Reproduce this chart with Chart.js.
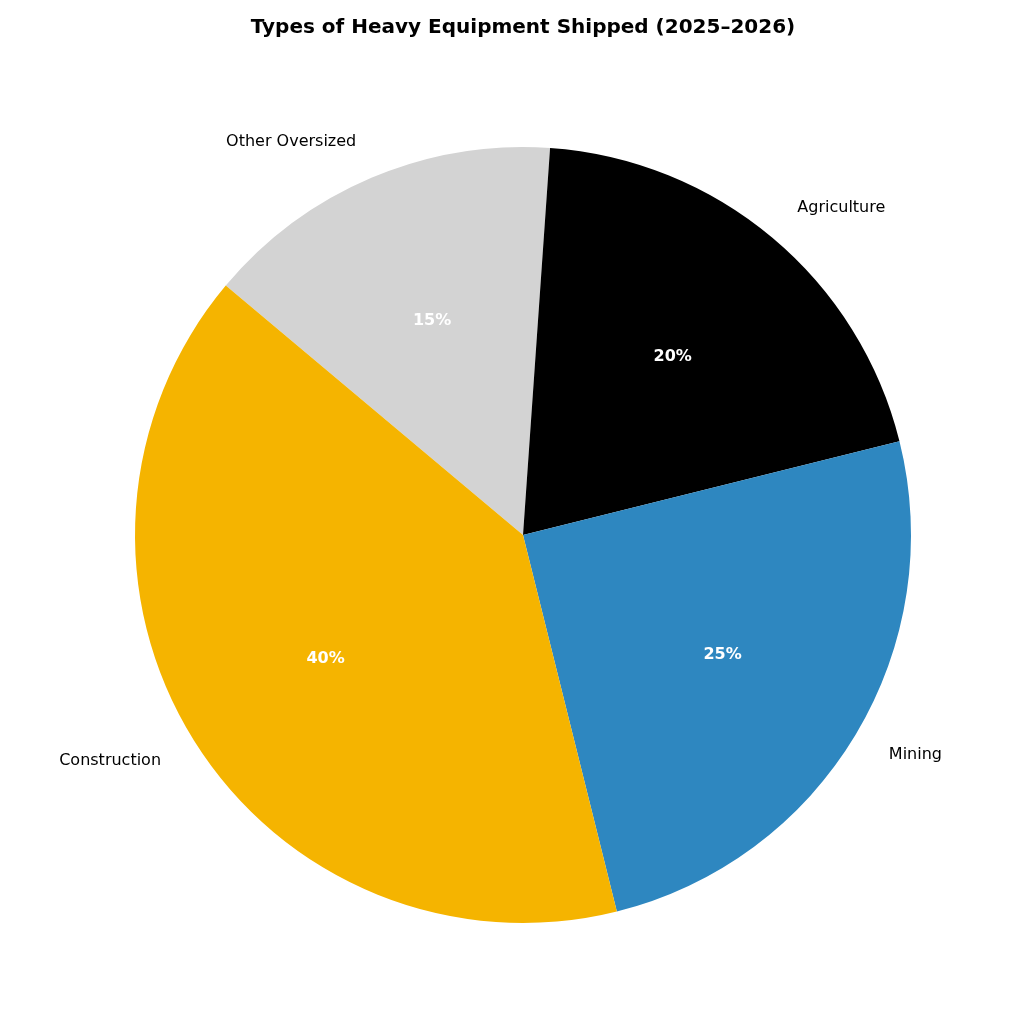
<!DOCTYPE html>
<html><head><meta charset="utf-8">
<script src="https://cdn.jsdelivr.net/npm/chart.js@4"></script>
<style>html,body{margin:0;padding:0;background:#fff}</style>
</head><body>
<div style="width:1024px;height:1035px"><canvas id="c" width="1024" height="1035"></canvas></div>
<script>
const categories = ["Other Oversized", "Agriculture", "Mining", "Construction"];
const shares = [15, 20, 25, 40];
const pctLabels = ["15%", "20%", "25%", "40%"];
const colors = ["#d3d3d3", "#000000", "#2e87c0", "#f5b400"];

const labelPlugin = {
  id: 'labels',
  afterDraw(chart) {
    const ctx = chart.ctx;
    ctx.save();
    ctx.fillStyle = '#000';
    ctx.font = 'bold 20px "DejaVu Sans"';
    ctx.textAlign = 'center';
    ctx.textBaseline = 'middle';
    ctx.fillText('Types of Heavy Equipment Shipped (2025\u20132026)', 523, 28);
    const meta = chart.getDatasetMeta(0);
    meta.data.forEach((arc, i) => {
      const p = arc.getProps(['x','y','startAngle','endAngle','outerRadius'], true);
      const mid = (p.startAngle + p.endAngle) / 2;
      const r = p.outerRadius;
      const cx = Math.cos(mid), cy = Math.sin(mid);
      ctx.font = 'bold 16px "DejaVu Sans"';
      ctx.fillStyle = '#fff';
      ctx.textAlign = 'center';
      ctx.fillText(pctLabels[i], p.x + cx * r * 0.6, p.y + cy * r * 0.6);
      ctx.font = '16px "DejaVu Sans"';
      ctx.fillStyle = '#000';
      ctx.textAlign = cx >= 0 ? 'left' : 'right';
      ctx.fillText(categories[i], p.x + cx * r * 1.1, p.y + cy * r * 1.1);
    });
    ctx.restore();
  }
};

new Chart(document.getElementById('c'), {
  type: 'pie',
  data: { labels: categories, datasets: [{ data: shares, backgroundColor: colors, borderWidth: 0 }] },
  options: {
    responsive: false, animation: false, rotation: -50,
    layout: { padding: { top: 147, bottom: 112, left: 135, right: 113 } },
    plugins: { legend: { display: false }, tooltip: { enabled: false } }
  },
  plugins: [labelPlugin]
});
</script>
</body></html>
